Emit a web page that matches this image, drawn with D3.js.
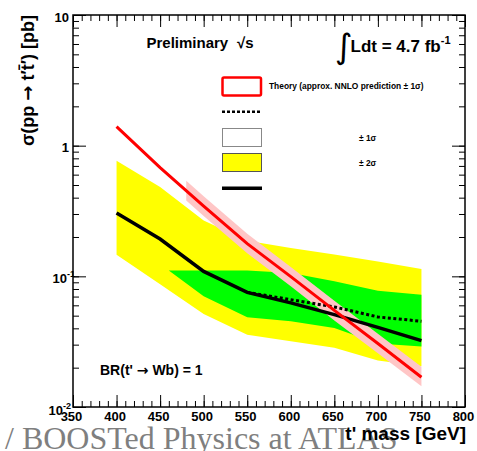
<!DOCTYPE html>
<html>
<head>
<meta charset="utf-8">
<script src="https://cdn.jsdelivr.net/npm/d3@7"></script>
<style>
  body { margin: 0; background: #fff; }
  svg { display: block; font-family: "Liberation Sans", Arial, sans-serif; }
  .arrow { font-family: "DejaVu Sans", sans-serif; }
</style>
</head>
<body>
<svg id="chart" width="477" height="451"></svg>
<script>
// t' mass points [GeV]
const masses = [400, 450, 500, 550, 600, 650, 700, 750];
// theory cross section (approx. NNLO) [pb]
const theory = [1.40, 0.68, 0.345, 0.178, 0.0995, 0.0549, 0.0306, 0.0169];
const theoryBandMass = [480, 500, 550, 600, 650, 700, 750];
const theoryUp = [0.54, 0.41, 0.212, 0.118, 0.065, 0.0364, 0.0203];
const theoryDown = [0.38, 0.29, 0.150, 0.084, 0.046, 0.0258, 0.0144];
// observed limit
const observed = [0.305, 0.193, 0.109, 0.0754, 0.0626, 0.0509, 0.0407, 0.0322];
// expected limit (only visible part)
const expectedMass = [550, 600, 650, 700, 750];
const expected = [0.0754, 0.0663, 0.0583, 0.0489, 0.0453];
// +-2 sigma band
const band2Up = [0.768, 0.483, 0.267, 0.187, 0.165, 0.147, 0.130, 0.114];
const band2Down = [0.146, 0.0868, 0.0515, 0.0358, 0.0318, 0.0284, 0.0227, 0.0205];
// +-1 sigma band
const band1Mass = [460, 500, 550, 600, 650, 700, 750];
const band1Up = [0.111, 0.111, 0.111, 0.106, 0.0916, 0.0777, 0.0724];
const band1Down = [0.111, 0.0703, 0.0486, 0.0453, 0.0403, 0.0306, 0.0291];

// axis ticks / labels
const xMajor = [350, 400, 450, 500, 550, 600, 650, 700, 750, 800];
const yMajor = [10, 1, 0.1, 0.01];
const yLabelBase = ["10", "1", "10", "10"];
const yLabelExp = ["", "", "-1", "-2"];

const svg = d3.select("#chart");
const pLeft = 73, pRight = 465, pTop = 15, pBottom = 407;

const x = d3.scaleLinear().domain([350, 800]).range([pLeft, pRight]);
const y = d3.scaleLog().domain([0.01, 10]).range([pBottom, pTop]);

const zip = (ms, vs) => ms.map((m, i) => [m, vs[i]]);

const bandArea = d3.area()
  .x((d) => x(d[0]))
  .y0((d) => y(d[1]))
  .y1((d) => y(d[2]));

const line = d3.line()
  .x((d) => x(d[0]))
  .y((d) => y(d[1]));

// bands
svg.append("path")
  .datum(masses.map((m, i) => [m, band2Down[i], band2Up[i]]))
  .attr("d", bandArea)
  .style("fill", "#ffff00");

svg.append("path")
  .datum(band1Mass.map((m, i) => [m, band1Down[i], band1Up[i]]))
  .attr("d", bandArea)
  .style("fill", "#00ff00");

svg.append("path")
  .datum(theoryBandMass.map((m, i) => [m, theoryDown[i], theoryUp[i]]))
  .attr("d", bandArea)
  .style("fill", "#ffc6c6");

// lines
svg.append("path")
  .datum(zip(masses, observed))
  .attr("d", line)
  .style("fill", "none")
  .style("stroke", "#000")
  .style("stroke-width", 3.5);

svg.append("path")
  .datum(zip(expectedMass, expected))
  .attr("d", line)
  .style("fill", "none")
  .style("stroke", "#000")
  .style("stroke-width", 3)
  .style("stroke-dasharray", "3,2.5");

svg.append("path")
  .datum(zip(masses, theory))
  .attr("d", line)
  .style("fill", "none")
  .style("stroke", "#ff0000")
  .style("stroke-width", 3);

// axes (ticks inside, ROOT style)
const xMinor = d3.range(350, 801, 10);
const yMinor = y.ticks();

const drawAxis = (axisFn, scale, vals, size, transform) => {
  const g = svg.append("g")
    .attr("transform", transform)
    .call(axisFn(scale).tickValues(vals).tickSize(size).tickFormat(""));
  g.select(".domain").remove();
  g.selectAll("line").style("stroke", "#000").style("stroke-width", 1);
  return g;
};

drawAxis(d3.axisBottom, x, xMinor, -6, `translate(0,${pBottom})`);
drawAxis(d3.axisBottom, x, xMajor, -12, `translate(0,${pBottom})`);
drawAxis(d3.axisTop, x, xMinor, -6, `translate(0,${pTop})`);
drawAxis(d3.axisTop, x, xMajor, -12, `translate(0,${pTop})`);
drawAxis(d3.axisLeft, y, yMinor, -6, `translate(${pLeft},0)`);
drawAxis(d3.axisLeft, y, yMajor, -13, `translate(${pLeft},0)`);
drawAxis(d3.axisRight, y, yMinor, -6, `translate(${pRight},0)`);
drawAxis(d3.axisRight, y, yMajor, -13, `translate(${pRight},0)`);

svg.append("rect")
  .attr("x", pLeft)
  .attr("y", pTop)
  .attr("width", pRight - pLeft)
  .attr("height", pBottom - pTop)
  .style("fill", "none")
  .style("stroke", "#000")
  .style("stroke-width", 1.5);

// tick labels
svg.selectAll("text.xlab")
  .data(xMajor)
  .enter()
  .append("text")
  .attr("class", "xlab")
  .attr("x", (d) => x(d) - 1.5)
  .attr("y", 421)
  .text((d) => d)
  .style("text-anchor", "middle")
  .style("font-size", "13px")
  .style("font-weight", "bold");

yMajor.forEach((v, i) => {
  const hasExp = yLabelExp[i] !== "";
  const low = v === 0.01;
  const t = svg.append("text")
    .attr("x", hasExp ? (low ? 71 : 75) : 69)
    .attr("y", y(v) + (low ? 8 : 6.5))
    .style("text-anchor", "end")
    .style("font-size", "13px")
    .style("font-weight", "bold");
  t.append("tspan").text(yLabelBase[i]);
  if (hasExp) {
    t.append("tspan")
      .attr("dy", -6)
      .style("font-size", "9px")
      .text(yLabelExp[i]);
  }
});

// text with a proper arrow glyph
const arrowText = (sel, before, after) => {
  sel.append("tspan").text(before);
  sel.append("tspan").attr("class", "arrow").text("→");
  sel.append("tspan").text(after);
  return sel;
};

// axis titles
const yTitle = svg.append("text")
  .attr("transform", `translate(34,${pTop}) rotate(-90)`)
  .style("text-anchor", "end")
  .style("font-size", "18px")
  .style("font-weight", "bold");
arrowText(yTitle, "σ(pp ", " t′t\u0304′) [pb]");

// watermark (behind title text)
svg.append("text")
  .attr("x", 5)
  .attr("y", 449)
  .style("font-family", "'Liberation Serif', 'Times New Roman', serif")
  .style("font-size", "32px")
  .style("fill", "#7f7f7f")
  .text("/ BOOSTed Physics at ATLAS");

svg.append("text")
  .attr("x", 466)
  .attr("y", 440)
  .style("text-anchor", "end")
  .style("font-size", "19px")
  .style("font-weight", "bold")
  .text("t' mass [GeV]");

// labels inside the frame
svg.append("text")
  .attr("x", 146.5)
  .attr("y", 48)
  .style("font-size", "15px")
  .style("font-weight", "bold")
  .text("Preliminary");

svg.append("text")
  .attr("x", 237)
  .attr("y", 48)
  .style("font-size", "15px")
  .style("font-weight", "bold")
  .text("√s");

svg.append("text")
  .attr("x", 335)
  .attr("y", 58)
  .style("font-family", "'DejaVu Sans', sans-serif")
  .style("font-size", "34px")
  .text("∫");

const lum = svg.append("text")
  .attr("x", 350.5)
  .attr("y", 51.5)
  .style("font-size", "17px")
  .style("font-weight", "bold");
lum.append("tspan").text("Ldt = 4.7 fb");
lum.append("tspan").attr("dy", -8).style("font-size", "11px").text("-1");

const br = svg.append("text")
  .attr("x", 100)
  .attr("y", 375)
  .style("font-size", "14px")
  .style("font-weight", "bold");
arrowText(br, "BR(t' ", " Wb) = 1");

// legend
const lg = svg.append("g");
lg.append("rect")
  .attr("x", 222.5).attr("y", 77.5).attr("width", 38.5).attr("height", 18)
  .attr("rx", 1.5)
  .style("fill", "#fff").style("stroke", "#ff0000").style("stroke-width", 2.5);
lg.append("text")
  .attr("x", 269).attr("y", 89)
  .style("font-size", "8.4px").style("font-weight", "bold")
  .text("Theory (approx. NNLO prediction ± 1σ)");
lg.append("line")
  .attr("x1", 222).attr("x2", 262).attr("y1", 111.7).attr("y2", 111.7)
  .style("stroke", "#000").style("stroke-width", 2.5).style("stroke-dasharray", "3,2");
lg.append("rect")
  .attr("x", 222.5).attr("y", 128.5).attr("width", 39).attr("height", 18)
  .style("fill", "#fff").style("stroke", "#888").style("stroke-width", 1);
lg.append("text")
  .attr("x", 359).attr("y", 141)
  .style("font-size", "8.4px").style("font-weight", "bold")
  .text("± 1σ");
lg.append("rect")
  .attr("x", 222.5).attr("y", 153.5).attr("width", 39).attr("height", 18)
  .style("fill", "#ffff00").style("stroke", "#555").style("stroke-width", 1);
lg.append("text")
  .attr("x", 359).attr("y", 166)
  .style("font-size", "8.4px").style("font-weight", "bold")
  .text("± 2σ");
lg.append("line")
  .attr("x1", 222).attr("x2", 262).attr("y1", 188.3).attr("y2", 188.3)
  .style("stroke", "#000").style("stroke-width", 3.5);
</script>
</body>
</html>
